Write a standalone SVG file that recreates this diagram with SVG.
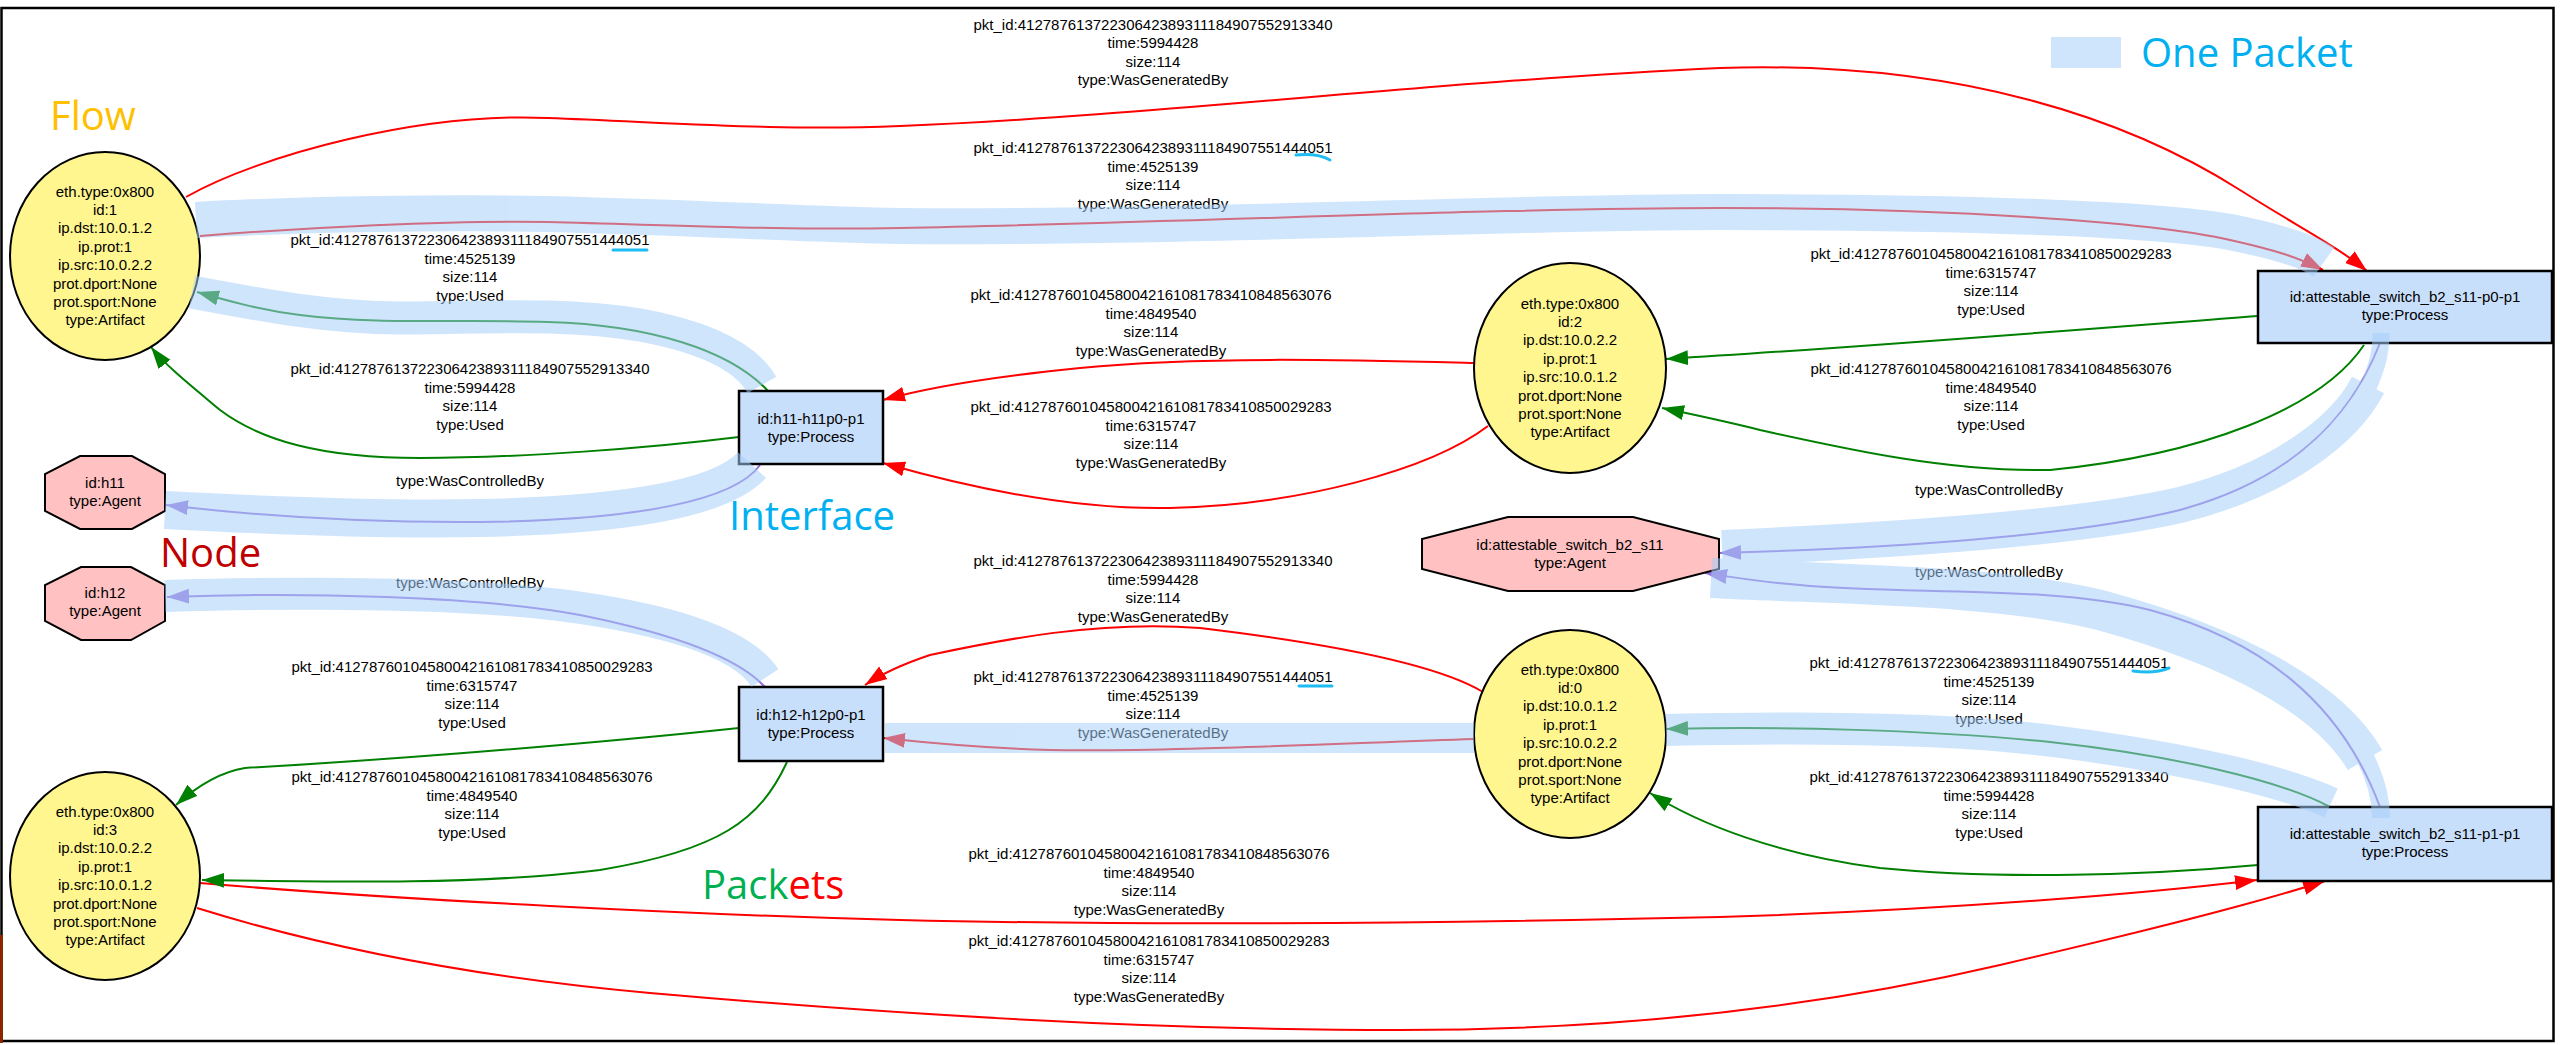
<svg xmlns="http://www.w3.org/2000/svg" width="2560" height="1045" viewBox="0 0 2560 1045">
<defs>
<style>
.t{font-family:"Liberation Sans",Arial,sans-serif;font-size:15px;text-anchor:middle;fill:#000}
.big{font-family:"Open Sans","Liberation Sans",sans-serif;font-size:40px}
.e{fill:none;stroke-width:2}
.r{stroke:#ff0000;marker-end:url(#ar)}
.g{stroke:#008000;marker-end:url(#ag)}
.p{stroke:#9370db;marker-end:url(#ap)}
.art{fill:#fff68f;stroke:#000;stroke-width:2}
.proc{fill:#c8dffb;stroke:#000;stroke-width:2.5}
.agent{fill:#ffc1c1;stroke:#000;stroke-width:2}
.band{fill:none;stroke:rgb(166,207,250);stroke-linecap:butt;stroke-linejoin:round}
.ul{fill:none;stroke:#1ebcf2;stroke-width:3;stroke-linecap:round}
</style>
<marker id="ar" markerUnits="userSpaceOnUse" viewBox="0 0 23 16" markerWidth="23" markerHeight="16" refX="22" refY="8" orient="auto"><path d="M0,0.5 L22,8 L0,15.5 z" fill="#ff0000"/></marker>
<marker id="ag" markerUnits="userSpaceOnUse" viewBox="0 0 23 16" markerWidth="23" markerHeight="16" refX="22" refY="8" orient="auto"><path d="M0,0.5 L22,8 L0,15.5 z" fill="#008000"/></marker>
<marker id="ap" markerUnits="userSpaceOnUse" viewBox="0 0 23 16" markerWidth="23" markerHeight="16" refX="22" refY="8" orient="auto"><path d="M0,0.5 L22,8 L0,15.5 z" fill="#9370db"/></marker>
</defs>
<rect x="0" y="0" width="2560" height="1045" fill="#fff"/>
<rect x="1.5" y="8" width="2552" height="1033" fill="none" stroke="#000" stroke-width="2.5"/>
<rect x="0" y="935" width="3" height="108" fill="#8b2500"/>

<g id="connectors">
<path class="e r" d="M186,197 C260,155 420,112 548,118 C680,123 780,131 900,126 C1150,116 1450,80 1720,68 C1960,60 2130,120 2240,190 C2300,228 2335,245 2367,271"/>
<path class="e r" d="M200,236 C300,228 450,220 548,222 C700,226 780,230 900,228 C1200,222 1500,208 1720,208 C1950,208 2150,222 2230,240 C2275,250 2300,258 2323,270"/>
<path class="e g" d="M768,391 C730,350 650,325 548,322 C460,319 380,325 300,315 C260,310 225,300 197,292"/>
<path class="e g" d="M739,437 C650,448 520,458 420,458 C320,458 260,440 220,410 C190,385 165,365 151,347"/>
<path class="e p" d="M760,465 C735,500 640,520 480,522 C350,523 250,515 166,505"/>
<path class="e r" d="M1474,363 C1350,360 1200,356 1080,368 C1000,376 930,387 883,400"/>
<path class="e r" d="M1488,426 C1430,470 1300,505 1170,508 C1070,510 960,485 883,463"/>
<path class="e g" d="M2258,316 C2050,332 1850,348 1666,359"/>
<path class="e g" d="M2364,345 C2320,410 2200,455 2050,470 C1950,472 1850,450 1760,430 C1720,420 1690,414 1662,408"/>
<path class="e p" d="M2380,343 C2350,420 2290,480 2180,510 C2080,535 1900,548 1719,553"/>
<path class="e p" d="M2380,807 C2340,700 2260,640 2150,610 C2050,585 1900,595 1800,585 C1760,582 1730,577 1705,573"/>
<path class="e r" d="M1483,692 C1430,660 1300,640 1200,628 C1100,620 1000,640 930,655 C900,665 880,675 865,685"/>
<path class="e r" d="M1474,739 C1300,745 1150,752 1050,750 C980,748 920,742 883,738"/>
<path class="e g" d="M2330,807 C2280,780 2170,755 2050,742 C1930,730 1780,726 1666,729"/>
<path class="e g" d="M2258,865 C2150,875 2000,880 1880,868 C1780,855 1700,825 1650,793"/>
<path class="e r" d="M200,883 C400,900 700,915 900,920 C1200,927 1500,922 1720,917 C1950,910 2150,893 2257,880"/>
<path class="e r" d="M197,908 C300,940 450,975 650,993 C900,1015 1150,1030 1400,1030 C1650,1030 1850,1000 2000,965 C2150,930 2250,905 2325,881"/>
<path class="e g" d="M739,728 C550,748 350,762 245,768 C220,772 195,788 176,805"/>
<path class="e g" d="M787,762 C760,820 720,850 600,870 C480,885 330,882 202,880"/>
<path class="e p" d="M765,687 C740,660 680,635 580,615 C480,596 300,592 167,597"/>

<text class="t" y="29.5"><tspan x="1153">pkt_id:41278761372230642389311184907552913340</tspan><tspan x="1153" dy="18.5">time:5994428</tspan><tspan x="1153" dy="18.5">size:114</tspan><tspan x="1153" dy="18.5">type:WasGeneratedBy</tspan></text>
<text class="t" y="153"><tspan x="1153">pkt_id:41278761372230642389311184907551444051</tspan><tspan x="1153" dy="18.5">time:4525139</tspan><tspan x="1153" dy="18.5">size:114</tspan><tspan x="1153" dy="18.5">type:WasGeneratedBy</tspan></text>
<text class="t" y="245"><tspan x="470">pkt_id:41278761372230642389311184907551444051</tspan><tspan x="470" dy="18.5">time:4525139</tspan><tspan x="470" dy="18.5">size:114</tspan><tspan x="470" dy="18.5">type:Used</tspan></text>
<text class="t" y="374"><tspan x="470">pkt_id:41278761372230642389311184907552913340</tspan><tspan x="470" dy="18.5">time:5994428</tspan><tspan x="470" dy="18.5">size:114</tspan><tspan x="470" dy="18.5">type:Used</tspan></text>
<text class="t" x="470" y="486">type:WasControlledBy</text>
<text class="t" y="300"><tspan x="1151">pkt_id:41278760104580042161081783410848563076</tspan><tspan x="1151" dy="18.5">time:4849540</tspan><tspan x="1151" dy="18.5">size:114</tspan><tspan x="1151" dy="18.5">type:WasGeneratedBy</tspan></text>
<text class="t" y="412"><tspan x="1151">pkt_id:41278760104580042161081783410850029283</tspan><tspan x="1151" dy="18.5">time:6315747</tspan><tspan x="1151" dy="18.5">size:114</tspan><tspan x="1151" dy="18.5">type:WasGeneratedBy</tspan></text>
<text class="t" y="259"><tspan x="1991">pkt_id:41278760104580042161081783410850029283</tspan><tspan x="1991" dy="18.5">time:6315747</tspan><tspan x="1991" dy="18.5">size:114</tspan><tspan x="1991" dy="18.5">type:Used</tspan></text>
<text class="t" y="374"><tspan x="1991">pkt_id:41278760104580042161081783410848563076</tspan><tspan x="1991" dy="18.5">time:4849540</tspan><tspan x="1991" dy="18.5">size:114</tspan><tspan x="1991" dy="18.5">type:Used</tspan></text>
<text class="t" x="1989" y="495">type:WasControlledBy</text>
<text class="t" x="1989" y="577">type:WasControlledBy</text>
<text class="t" y="566"><tspan x="1153">pkt_id:41278761372230642389311184907552913340</tspan><tspan x="1153" dy="18.5">time:5994428</tspan><tspan x="1153" dy="18.5">size:114</tspan><tspan x="1153" dy="18.5">type:WasGeneratedBy</tspan></text>
<text class="t" y="682"><tspan x="1153">pkt_id:41278761372230642389311184907551444051</tspan><tspan x="1153" dy="18.5">time:4525139</tspan><tspan x="1153" dy="18.5">size:114</tspan><tspan x="1153" dy="18.5">type:WasGeneratedBy</tspan></text>
<text class="t" y="668"><tspan x="1989">pkt_id:41278761372230642389311184907551444051</tspan><tspan x="1989" dy="18.5">time:4525139</tspan><tspan x="1989" dy="18.5">size:114</tspan><tspan x="1989" dy="18.5">type:Used</tspan></text>
<text class="t" y="782"><tspan x="1989">pkt_id:41278761372230642389311184907552913340</tspan><tspan x="1989" dy="18.5">time:5994428</tspan><tspan x="1989" dy="18.5">size:114</tspan><tspan x="1989" dy="18.5">type:Used</tspan></text>
<text class="t" y="859"><tspan x="1149">pkt_id:41278760104580042161081783410848563076</tspan><tspan x="1149" dy="18.5">time:4849540</tspan><tspan x="1149" dy="18.5">size:114</tspan><tspan x="1149" dy="18.5">type:WasGeneratedBy</tspan></text>
<text class="t" y="946"><tspan x="1149">pkt_id:41278760104580042161081783410850029283</tspan><tspan x="1149" dy="18.5">time:6315747</tspan><tspan x="1149" dy="18.5">size:114</tspan><tspan x="1149" dy="18.5">type:WasGeneratedBy</tspan></text>
<text class="t" y="672"><tspan x="472">pkt_id:41278760104580042161081783410850029283</tspan><tspan x="472" dy="18.5">time:6315747</tspan><tspan x="472" dy="18.5">size:114</tspan><tspan x="472" dy="18.5">type:Used</tspan></text>
<text class="t" y="782"><tspan x="472">pkt_id:41278760104580042161081783410848563076</tspan><tspan x="472" dy="18.5">time:4849540</tspan><tspan x="472" dy="18.5">size:114</tspan><tspan x="472" dy="18.5">type:Used</tspan></text>
<text class="t" x="470" y="588">type:WasControlledBy</text>
</g>

<g id="n-id1"><ellipse class="art" cx="105" cy="256" rx="95" ry="104"/>
<text class="t" y="196.6"><tspan x="105">eth.type:0x800</tspan><tspan x="105" dy="18.4">id:1</tspan><tspan x="105" dy="18.4">ip.dst:10.0.1.2</tspan><tspan x="105" dy="18.4">ip.prot:1</tspan><tspan x="105" dy="18.4">ip.src:10.0.2.2</tspan><tspan x="105" dy="18.4">prot.dport:None</tspan><tspan x="105" dy="18.4">prot.sport:None</tspan><tspan x="105" dy="18.4">type:Artifact</tspan></text></g>
<g id="n-id2"><ellipse class="art" cx="1570" cy="368" rx="96" ry="105"/>
<text class="t" y="308.6"><tspan x="1570">eth.type:0x800</tspan><tspan x="1570" dy="18.4">id:2</tspan><tspan x="1570" dy="18.4">ip.dst:10.0.2.2</tspan><tspan x="1570" dy="18.4">ip.prot:1</tspan><tspan x="1570" dy="18.4">ip.src:10.0.1.2</tspan><tspan x="1570" dy="18.4">prot.dport:None</tspan><tspan x="1570" dy="18.4">prot.sport:None</tspan><tspan x="1570" dy="18.4">type:Artifact</tspan></text></g>
<g id="n-id0"><ellipse class="art" cx="1570" cy="734" rx="96" ry="104"/>
<text class="t" y="674.6"><tspan x="1570">eth.type:0x800</tspan><tspan x="1570" dy="18.4">id:0</tspan><tspan x="1570" dy="18.4">ip.dst:10.0.1.2</tspan><tspan x="1570" dy="18.4">ip.prot:1</tspan><tspan x="1570" dy="18.4">ip.src:10.0.2.2</tspan><tspan x="1570" dy="18.4">prot.dport:None</tspan><tspan x="1570" dy="18.4">prot.sport:None</tspan><tspan x="1570" dy="18.4">type:Artifact</tspan></text></g>
<g id="n-id3"><ellipse class="art" cx="105" cy="876" rx="95" ry="104"/>
<text class="t" y="816.6"><tspan x="105">eth.type:0x800</tspan><tspan x="105" dy="18.4">id:3</tspan><tspan x="105" dy="18.4">ip.dst:10.0.2.2</tspan><tspan x="105" dy="18.4">ip.prot:1</tspan><tspan x="105" dy="18.4">ip.src:10.0.1.2</tspan><tspan x="105" dy="18.4">prot.dport:None</tspan><tspan x="105" dy="18.4">prot.sport:None</tspan><tspan x="105" dy="18.4">type:Artifact</tspan></text></g>

<g id="n-h11-h11p0-p1"><rect class="proc" x="739" y="391" width="144" height="73"/>
<text class="t" x="811" y="424">id:h11-h11p0-p1</text><text class="t" x="811" y="442">type:Process</text></g>
<g id="n-h12-h12p0-p1"><rect class="proc" x="739" y="687" width="144" height="74"/>
<text class="t" x="811" y="720">id:h12-h12p0-p1</text><text class="t" x="811" y="738">type:Process</text></g>
<g id="n-sw-p0-p1"><rect class="proc" x="2258" y="271" width="294" height="72"/>
<text class="t" x="2405" y="302">id:attestable_switch_b2_s11-p0-p1</text><text class="t" x="2405" y="320">type:Process</text></g>
<g id="n-sw-p1-p1"><rect class="proc" x="2258" y="807" width="294" height="74"/>
<text class="t" x="2405" y="839">id:attestable_switch_b2_s11-p1-p1</text><text class="t" x="2405" y="857">type:Process</text></g>

<g id="n-h11"><polygon class="agent" points="80,456 132,456 165,474 165,511 132,529 80,529 45,511 45,474"/>
<text class="t" x="105" y="488">id:h11</text><text class="t" x="105" y="506">type:Agent</text></g>
<g id="n-h12"><polygon class="agent" points="81,567 131,567 165,585 165,621 131,640 81,640 45,621 45,585"/>
<text class="t" x="105" y="598">id:h12</text><text class="t" x="105" y="616">type:Agent</text></g>
<g id="n-sw"><polygon class="agent" points="1508,517 1633,517 1719,539 1719,569 1633,591 1508,591 1422,569 1422,539"/>
<text class="t" x="1570" y="550">id:attestable_switch_b2_s11</text><text class="t" x="1570" y="568">type:Agent</text></g>

<g id="highlight" opacity="0.53">
<rect x="2051" y="37" width="70" height="31" fill="rgb(166,207,250)"/>
<path class="band" stroke-width="36" d="M196,220 C300,214 450,212 548,214 C700,218 800,224 900,226 C1200,228 1500,212 1720,212 C1950,212 2150,218 2230,232 C2280,242 2310,252 2324,262"/>
<path class="band" stroke-width="22" d="M196,214 L330,212"/>
<path class="band" stroke-width="33" d="M192,292 C260,305 330,318 400,318 C480,318 560,312 640,325 C700,336 745,355 762,385"/>
<path class="band" stroke-width="38" d="M165,510 C260,515 380,520 480,518 C620,515 720,500 752,465"/>
<path class="band" stroke-width="36" d="M1722,548 C1900,540 2080,528 2180,505 C2280,480 2345,430 2368,385"/>
<path class="band" stroke-width="17" d="M2366,392 C2376,370 2381,355 2381,333"/>
<path class="band" stroke-width="40" d="M1711,578 C1850,585 2000,585 2100,610 C2240,648 2330,700 2365,760"/>
<path class="band" stroke-width="18" d="M2362,752 C2375,775 2381,795 2381,818"/>
<path class="band" stroke-width="30" d="M885,738 L1474,738"/>
<path class="band" stroke-width="32" d="M1666,730 C1800,727 1950,727 2060,742 C2200,760 2290,784 2331,803"/>
<path class="band" stroke-width="32" d="M165,596 C300,592 450,592 560,605 C660,618 740,640 765,678"/>
</g>

<g id="underlines">
<path class="ul" d="M1296,155 Q1318,153 1330,160"/>
<path class="ul" d="M613,250 L647,250"/>
<path class="ul" d="M1299,686 L1332,686"/>
<path class="ul" d="M2133,671 Q2155,674 2169,668"/>
</g>

<g id="annotations">
<text class="big" x="50" y="130" fill="#ffc000">Flow</text>
<text class="big" x="160" y="567" fill="#c00000">Node</text>
<text class="big" x="729" y="530" fill="#00b0f0">Interface</text>
<text class="big" x="702" y="899"><tspan fill="#00b050">Pack</tspan><tspan fill="#ff0000">ets</tspan></text>
<text class="big" x="2141" y="67" fill="#00b0f0">One Packet</text>
</g>
</svg>
